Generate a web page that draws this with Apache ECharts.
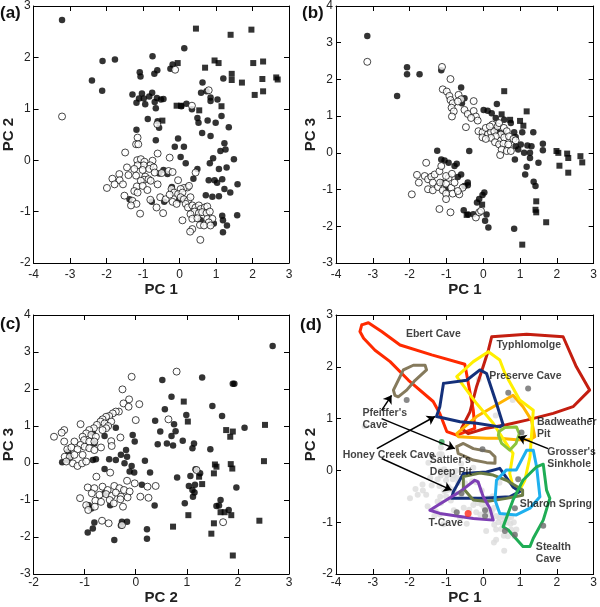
<!DOCTYPE html>
<html><head><meta charset="utf-8">
<script src="https://cdn.jsdelivr.net/npm/echarts@6/dist/echarts.min.js"></script>
<style>html,body{margin:0;padding:0;background:#fff}#c{width:600px;height:607px}</style>
</head><body><div id="c"></div>
<script>
// ---------- DATA ----------
// Panel (a): PC1 vs PC2
const a_filled = [[-3.22,2.73],[-2.11,1.93],[-1.77,1.96],[-2.40,1.55],[-2.12,1.35],[-0.74,2.02],[-1.09,1.71],[-1.07,1.63],[-0.69,1.68],[-0.61,1.75],[-0.25,1.78],[-0.19,1.86],[0.13,2.18],[-1.29,1.28],[-1.18,1.12],[-1.11,1.20],[-1.03,1.30],[-0.98,1.20],[-0.94,1.09],[-0.83,1.24],[-0.75,1.31],[-0.68,1.13],[-0.62,1.21],[-0.51,1.18],[-0.44,1.19],[-0.65,1.01],[-0.87,0.80],[-0.60,0.76],[-0.56,0.63],[-1.18,0.59],[0.05,1.05],[0.19,1.10],[0.34,0.99],[0.49,0.82],[0.52,0.73],[0.77,0.77],[0.99,0.73],[1.15,0.86],[0.59,1.31],[0.63,1.51],[0.74,1.34],[0.85,1.22],[0.85,1.15],[1.04,1.18],[1.20,1.59],[1.35,0.64],[0.62,0.53],[0.85,0.47],[-0.04,0.42],[-0.65,0.39],[-0.13,0.26],[0.12,0.26],[1.23,0.33],[1.26,0.21],[1.12,0.18],[0.92,0.04],[1.49,0.02],[0.83,-0.06],[1.08,-0.17],[1.29,-0.14],[0.49,-0.17],[-0.44,-0.19],[0.38,-0.36],[0.80,-0.39],[0.96,-0.39],[1.03,-0.44],[1.17,-0.37],[1.23,-0.56],[1.59,-0.47],[1.39,-0.63],[1.08,-0.70],[0.90,-0.71],[0.72,-0.68],[-0.21,-0.52],[-1.37,-0.76],[-0.76,-0.81],[-0.42,-0.81],[-0.01,-0.77],[1.17,-1.08],[1.19,-1.17],[1.30,-1.27],[1.19,-1.40],[1.58,-1.07],[0.58,-1.17],[0.94,-1.23],[0.17,-0.06],[-0.56,-0.26],[-0.33,-0.27],[0.03,0.06]];
const a_square = [[0.45,2.56],[1.40,2.44],[1.97,2.54],[-0.05,1.89],[0.70,1.80],[0.96,1.94],[1.07,1.89],[2.02,1.89],[2.29,1.92],[1.43,1.68],[1.43,1.56],[1.71,1.51],[2.27,1.58],[2.06,1.27],[2.29,1.34],[2.65,1.61],[2.69,1.57],[-0.08,1.06],[0.04,1.06],[0.54,0.97],[1.15,1.05],[-0.47,0.77]];
const a_open = [[-3.22,0.85],[-0.12,1.76],[-0.61,0.70],[0.80,1.36],[0.34,1.06],[-1.15,0.44],[-1.19,0.31],[-1.13,0.31],[-1.49,0.15],[-0.60,0.13],[-0.27,0.05],[-1.16,0.0],[-1.06,0.02],[-0.96,-0.03],[-0.74,-0.01],[-0.80,-0.10],[-0.98,-0.10],[-1.15,-0.10],[-1.44,-0.14],[-1.24,-0.17],[-1.01,-0.19],[-0.83,-0.17],[-0.71,-0.14],[-0.68,-0.24],[-0.49,-0.25],[-0.30,-0.21],[-0.19,-0.23],[-1.65,-0.27],[-1.40,-0.29],[-1.19,-0.30],[-0.94,-0.32],[-0.97,-0.38],[-0.85,-0.37],[-1.84,-0.36],[-1.64,-0.39],[-1.55,-0.47],[-1.78,-0.47],[-1.99,-0.54],[-1.06,-0.40],[-0.79,-0.40],[-0.60,-0.47],[-1.17,-0.51],[-1.01,-0.50],[-0.88,-0.58],[-1.24,-0.60],[-1.15,-0.63],[-1.51,-0.69],[-1.29,-0.79],[-1.18,-0.85],[-1.33,-0.88],[-1.08,-1.04],[-0.63,-0.92],[-0.45,-1.03],[-0.80,-0.77],[-0.53,-0.72],[-0.38,-0.76],[-0.04,-0.39],[0.22,-0.53],[0.12,-0.54],[0.03,-0.56],[0.26,-0.50],[0.44,-0.24],[-0.22,-0.56],[-0.15,-0.63],[-0.27,-0.67],[-0.04,-0.66],[0.08,-0.63],[0.03,-0.72],[0.12,-0.76],[0.23,-0.79],[0.30,-0.72],[-0.19,-0.81],[-0.08,-0.85],[0.17,-0.85],[0.23,-0.92],[0.35,-0.88],[0.44,-0.92],[0.53,-0.88],[0.58,-0.95],[0.69,-0.92],[0.76,-0.90],[0.41,-1.00],[0.53,-1.03],[0.62,-1.01],[0.74,-1.03],[0.83,-1.00],[0.30,-1.05],[0.08,-1.17],[0.35,-1.14],[0.49,-1.13],[0.76,-1.14],[0.90,-1.14],[0.80,-1.21],[0.56,-1.26],[0.67,-1.27],[0.85,-1.27],[0.35,-1.34],[0.29,-1.39],[0.57,-1.55]];

// Panel (b): PC1 vs PC3
const b_filled = [[-3.15,3.18],[-2.34,1.55],[-2.07,2.33],[-2.07,2.14],[-1.73,2.14],[-1.14,2.25],[-0.60,1.78],[-0.51,1.49],[-0.58,1.35],[0.01,1.17],[0.12,1.15],[0.37,1.33],[0.23,1.08],[0.34,0.95],[0.57,0.90],[0.75,0.81],[0.54,0.56],[0.37,0.61],[0.84,0.56],[0.88,0.43],[1.06,0.56],[1.36,0.56],[1.02,0.23],[1.20,0.20],[1.31,0.18],[0.88,0.18],[0.95,0.09],[1.11,0.0],[1.27,0.0],[1.27,-0.14],[0.86,-0.18],[1.62,0.25],[1.62,0.07],[-1.25,0.06],[-0.38,0.05],[1.50,-0.27],[1.18,-0.38],[1.14,-0.59],[1.37,-0.79],[1.42,-0.90],[0.84,-2.07],[-1.14,-0.18],[-1.05,-0.21],[-0.94,-0.27],[-0.78,-0.36],[-0.72,-0.30],[-0.60,-0.59],[-0.69,-0.66],[-0.42,-0.81],[-0.42,-0.88],[-0.51,-0.90],[-1.12,-0.81],[-0.53,-1.56],[-0.41,-1.68],[0.03,-1.08],[-0.02,-1.15],[-0.11,-1.26],[-0.17,-1.35],[0.09,-1.68],[0.14,-2.03],[0.05,-1.85],[-1.01,-0.97],[-0.27,-1.67]];
const b_square = [[0.57,1.68],[1.18,1.13],[0.50,1.05],[0.73,0.90],[1.0,0.87],[1.09,0.74],[1.99,0.05],[2.04,0.0],[2.28,-0.02],[2.31,-0.14],[2.64,-0.09],[2.69,-0.26],[2.07,-0.35],[2.31,-0.54],[1.44,-1.32],[1.42,-1.55],[1.44,-1.62],[1.71,-1.89],[1.06,-2.50],[-0.03,-1.41],[-0.45,-1.69]];
const b_open = [[-3.15,2.48],[-1.12,2.34],[-0.89,2.01],[-1.10,1.73],[-0.99,1.67],[-0.92,1.55],[-0.89,1.44],[-0.83,1.35],[-0.86,1.23],[-0.80,1.13],[-0.85,0.99],[-0.67,1.58],[-0.60,1.46],[-0.69,1.40],[-0.26,1.41],[-0.51,1.17],[-0.42,1.06],[-0.26,1.14],[-0.20,0.99],[-0.33,0.95],[-0.15,0.88],[-0.47,0.70],[-0.13,0.59],[-0.02,0.56],[0.07,0.68],[0.12,0.50],[-0.02,0.42],[0.21,0.56],[0.30,0.59],[0.25,0.77],[0.39,0.72],[0.43,0.81],[0.56,0.68],[0.64,0.59],[0.48,0.50],[0.34,0.45],[0.21,0.41],[0.32,0.29],[0.57,0.42],[0.70,0.45],[0.82,0.38],[0.43,0.23],[0.55,0.25],[0.68,0.23],[0.50,0.09],[0.46,-0.06],[0.64,0.05],[0.75,0.05],[0.88,0.34],[0.07,0.38],[0.18,0.72],[-1.55,-0.27],[-1.80,-0.60],[-1.75,-0.81],[-1.94,-1.13],[-1.59,-0.63],[-1.50,-0.72],[-1.41,-0.65],[-1.32,-0.59],[-1.19,-0.50],[-1.14,-0.36],[-1.37,-0.81],[-1.50,-0.99],[-1.37,-1.02],[-1.23,-0.93],[-1.17,-0.81],[-1.01,-0.84],[-1.10,-1.02],[-1.01,-1.11],[-0.87,-0.95],[-0.83,-1.11],[-0.94,-0.68],[-1.01,-0.63],[-0.85,-0.57],[-0.78,-0.81],[-0.65,-1.13],[-0.56,-0.95],[-0.69,-1.04],[-1.19,-1.53],[-0.89,-1.62],[-1.01,-1.26],[-0.20,-1.76],[-0.11,-1.62],[-0.06,-1.58]];

// Panel (c): PC2 vs PC3
const c_filled = [[0.52,2.24],[0.57,1.45],[0.38,1.14],[0.48,0.85],[0.43,0.51],[-0.84,0.82],[-0.39,0.95],[-0.06,0.76],[-0.02,0.58],[-0.61,0.73],[-0.81,0.53],[-0.19,0.35],[-0.29,0.22],[-0.17,0.17],[-0.52,0.10],[-0.39,0.08],[-1.32,0.31],[-1.28,0.17],[-1.33,0.08],[-1.44,0.02],[-0.84,0.08],[-0.78,0.10],[-0.61,-0.16],[-0.22,-0.01],[-0.08,-0.08],[-0.12,-0.23],[-0.03,-0.26],[0.18,0.06],[0.28,-0.26],[0.12,-0.59],[0.37,-1.15],[-0.61,-0.82],[-0.50,-1.14],[-0.92,-1.14],[-0.87,-1.23],[-0.81,-1.61],[-0.84,-1.77],[-0.94,-1.88],[-0.27,-1.59],[-0.17,-1.59],[-0.29,-1.69],[-0.42,-2.08],[0.22,-1.79],[0.22,-2.05],[2.68,3.16],[1.30,2.31],[1.90,2.14],[1.93,2.14],[0.70,1.79],[0.75,1.05],[0.78,0.86],[0.70,0.73],[0.73,0.47],[0.61,0.53],[0.99,1.30],[0.92,0.60],[1.14,0.53],[1.11,0.40],[1.50,1.54],[1.69,1.27],[2.13,0.95],[1.46,0.37],[1.17,-0.17],[1.07,-0.35],[1.26,-0.28],[1.16,-0.59],[1.04,-0.62],[1.11,-0.73],[1.15,-0.80],[1.12,-0.91],[0.81,-0.39],[0.96,-1.09],[1.97,-0.66],[1.66,-1.00],[1.63,-1.15],[1.58,-1.16],[1.82,-1.27]];
const c_square = [[0.94,1.66],[1.02,1.12],[1.77,0.89],[1.90,0.85],[1.85,0.71],[2.53,1.03],[2.51,0.05],[1.55,-0.04],[1.58,-0.10],[1.53,-0.28],[1.86,-0.03],[1.89,-0.15],[1.24,-0.37],[1.30,-0.57],[1.66,-1.33],[1.74,-1.33],[1.87,-1.41],[1.03,-1.41],[0.73,-1.72],[1.53,-1.63],[1.48,-1.91],[2.42,-1.56],[1.90,-2.50]];
const c_open = [[0.80,2.47],[0.64,1.18],[1.71,-1.60],[1.19,-0.19],[-0.08,2.33],[-0.26,1.99],[-0.13,1.72],[-0.24,1.61],[-0.14,1.52],[0.07,1.59],[-0.33,1.39],[-0.39,1.39],[-0.45,1.34],[-0.52,1.27],[-0.58,1.25],[-0.65,1.18],[-0.69,1.12],[-0.76,1.03],[-0.48,1.12],[-0.61,1.07],[-0.54,1.00],[0.00,1.16],[-1.08,1.05],[-0.82,0.94],[-0.58,0.94],[-0.91,0.89],[-0.65,0.89],[-0.97,0.80],[-0.87,0.76],[-1.04,0.71],[-0.78,0.71],[-1.40,0.89],[-1.45,0.82],[-1.60,0.71],[-1.40,0.58],[-1.20,0.58],[-1.01,0.62],[-0.91,0.58],[-1.08,0.49],[-0.81,0.58],[-0.30,0.69],[-0.48,0.59],[-1.34,0.37],[-1.26,0.42],[-1.14,0.37],[-1.00,0.44],[-0.91,0.40],[-0.81,0.35],[-0.68,0.42],[-0.47,0.46],[-1.39,0.17],[-1.29,0.17],[-1.20,0.22],[-1.04,0.22],[-1.36,0.04],[-1.23,-0.01],[-1.14,-0.08],[-1.05,-0.01],[-0.97,0.04],[-0.77,-0.37],[-0.50,-0.26],[-0.17,-0.48],[-0.02,-0.55],[0.23,-0.64],[0.39,-0.62],[-0.94,-0.66],[-0.81,-0.68],[-0.65,-0.64],[-0.55,-0.73],[-0.42,-0.62],[-0.32,-0.68],[-0.23,-0.73],[-0.12,-0.77],[-0.86,-0.82],[-0.71,-0.86],[-0.58,-0.84],[-0.47,-0.89],[-0.39,-0.80],[-0.29,-0.91],[-0.16,-0.93],[0.09,-0.91],[0.25,-0.94],[-1.09,-0.95],[-0.97,-1.14],[-0.79,-1.02],[-0.68,-1.05],[-0.51,-1.00],[-0.43,-1.09],[-0.30,-0.98],[-0.25,-1.18],[-0.80,-1.18],[-0.93,-1.27],[-0.66,-1.56],[-0.53,-1.63],[-0.27,-1.68]];

// Panel (d): PC1 vs PC2 with cave polygons
const d_light = a_open; // same samples drawn in light grey
const d_dark = [[-2.08,1.36],[0.68,1.50],[1.22,1.58],[1.04,0.73],[-0.02,0.41],[0.95,-0.17],[-0.59,-0.44],[0.05,-0.77],[0.05,-0.88],[-0.72,-0.81],[0.86,-0.73],[0.59,-1.17],[0.86,-1.24],[1.63,-1.07]];
const d_red = [[-0.41,-0.83]];
const d_green = [[-1.13,0.55]];

const poly_ebert = [[-3.30,2.81],[-3.12,2.85],[-2.76,2.68],[-2.26,2.42],[-1.40,2.23],[-0.50,2.05],[-0.27,1.16],[-0.23,0.81],[-0.72,0.68],[-0.99,0.75],[-1.18,1.10],[-1.36,1.33],[-2.03,1.74],[-2.53,2.10],[-2.94,2.32],[-3.25,2.55],[-3.35,2.68]];
const poly_typhlomolge = [[0.23,2.58],[1.18,2.63],[2.17,2.58],[2.53,2.00],[2.89,1.55],[2.44,1.23],[1.90,1.10],[1.18,0.97],[0.63,0.88],[0.05,0.81],[-0.41,0.71],[-0.59,0.81],[-0.36,1.13],[-0.18,1.62],[-0.05,1.90],[0.14,2.32]];
const poly_yellow = [[0.14,2.29],[0.45,2.13],[0.59,1.87],[0.99,1.36],[1.36,1.16],[1.27,0.26],[1.13,-0.19],[0.99,-0.38],[0.81,-0.32],[0.72,-0.06],[0.81,0.33],[0.68,0.46],[0.45,0.71],[0.27,0.91],[-0.18,1.29],[-0.72,1.81],[-0.27,2.10]];
const poly_preserve = [[-1.08,1.68],[-0.45,1.74],[-0.09,1.94],[0.09,1.87],[0.36,1.29],[0.54,0.88],[0.45,0.84],[-0.18,0.91],[-0.63,0.94],[-1.27,1.04],[-1.18,1.23]];
const poly_orange = [[-0.72,0.71],[-0.18,1.04],[0.81,1.45],[1.08,1.23],[1.31,0.97],[1.40,0.65],[1.27,0.59],[0.90,0.59],[0.45,0.62],[0.09,0.62],[-0.68,0.65]];
const poly_grosser = [[0.43,0.75],[0.59,0.83],[0.90,0.84],[0.98,0.71],[0.89,0.52],[0.72,0.39],[0.50,0.52],[0.41,0.68]];
const poly_pfeiffer = [[-2.44,1.55],[-2.17,1.94],[-1.90,2.03],[-1.58,2.03],[-1.54,1.94],[-1.85,1.74],[-2.08,1.55],[-2.31,1.42],[-2.40,1.45]];
const poly_sattler = [[-0.72,0.46],[-0.54,0.52],[-0.27,0.42],[0.18,0.36],[0.32,0.26],[0.32,0.14],[0.09,0.15],[-0.27,0.20],[-0.68,0.33]];
const poly_honey = [[-0.81,-0.41],[-0.54,-0.06],[0.09,-0.03],[0.45,0.04],[0.81,-0.32],[0.99,-0.41],[0.72,-0.51],[0.0,-0.54],[-0.86,-0.54]];
const poly_olive = [[-0.54,-0.12],[-0.09,-0.05],[0.27,-0.09],[0.63,-0.19],[1.07,-0.38],[1.07,-0.48],[0.63,-0.54],[0.09,-0.60],[-0.27,-0.57],[-0.54,-0.35]];
const poly_tcave = [[-1.45,-0.77],[-1.18,-0.65],[-0.63,-0.41],[-0.23,-0.19],[-0.14,-0.22],[0.0,-0.51],[0.18,-0.73],[0.27,-0.96],[0.23,-0.99],[-0.27,-0.93],[-0.72,-0.88],[-1.18,-0.83]];
const poly_sharon = [[0.36,-0.19],[0.63,0.01],[0.90,0.01],[1.18,0.39],[1.36,0.39],[1.45,0.07],[1.54,-0.51],[1.27,-0.73],[0.90,-0.86],[0.45,-0.83],[0.32,-0.57]];
const poly_stealth = [[0.54,-1.09],[0.81,-0.57],[1.08,-0.19],[1.45,0.07],[1.63,0.12],[1.72,-0.38],[1.81,-0.54],[1.63,-0.96],[1.36,-1.31],[1.27,-1.47],[1.08,-1.47],[0.68,-1.15]];

const d_arrows = [[[-2.76,1.16],[-2.49,1.45]],[[-2.76,1.00],[-0.77,0.42]],[[-2.89,0.42],[-1.31,1.04]],[[-2.76,0.23],[-0.86,-0.38]],[[1.76,0.42],[0.95,0.65]]];
const d_labels = [["Ebert Cave",-2.10,2.64],["Typhlomolge",0.36,2.41],["Preserve Cave",0.16,1.82],["Pfeiffer's\nCave",-3.28,0.99],["Badweather\nPit",1.46,0.82],["Grosser's\nSinkhole",1.74,0.23],["Honey Creek Cave",-3.82,0.30],["Sattler's\nDeep Pit",-1.45,0.09],["Sharon Spring",0.99,-0.65],["T-Cave",-1.49,-1.01],["Stealth\nCave",1.43,-1.59]];

const panel_tags = ["(a)","(b)","(c)","(d)"];
const x_ranges = [[-4,3],[-4,3],[-2,3],[-4,3]];
const y_ranges = [[-2,3],[-3,4],[-3,4],[-2,3]];
const x_names = ["PC 1","PC 1","PC 2","PC 1"];
const y_names = ["PC 2","PC 3","PC 3","PC 2"];

// ---------- LAYOUT / STYLE ----------
const FONT = "Liberation Sans, Arial, sans-serif";
const grids = [
  {left:32, top:4, width:257, height:259},
  {left:336, top:4, width:259, height:259},
  {left:32, top:315, width:257, height:259},
  {left:336, top:315, width:258, height:259}
];
const xLabelMargin = [6,6,3,3];
const xNameGap = [17,17,8,7];
const yNameGap = [9,9,13,6];
const tagPos = [[0,5],[302,5],[0,316],[300,317]];

const xAxes = [], yAxes = [];
grids.forEach((g,i)=>{
  const lineS = {show:true, onZero:false, lineStyle:{color:'#000', width:1}};
  const tick = {show:true, inside:true, length:5, lineStyle:{color:'#000', width:1}};
  xAxes.push({type:'value', gridIndex:i, position:'bottom', min:x_ranges[i][0], max:x_ranges[i][1], interval:1,
    name:x_names[i], nameLocation:'middle', nameGap:xNameGap[i],
    nameTextStyle:{fontFamily:FONT, fontWeight:'bold', fontSize:15, color:'#222'},
    axisLine:lineS, axisTick:tick, splitLine:{show:false},
    axisLabel:{margin:xLabelMargin[i], fontFamily:FONT, fontSize:12, color:'#222'}});
  xAxes.push({type:'value', gridIndex:i, position:'top', min:x_ranges[i][0], max:x_ranges[i][1], interval:1,
    axisLine:lineS, axisTick:tick, splitLine:{show:false}, axisLabel:{show:false}});
  yAxes.push({type:'value', gridIndex:i, position:'left', min:y_ranges[i][0], max:y_ranges[i][1], interval:1,
    name:y_names[i], nameLocation:'middle', nameGap:yNameGap[i],
    nameTextStyle:{fontFamily:FONT, fontWeight:'bold', fontSize:15, color:'#222'},
    axisLine:lineS, axisTick:tick, splitLine:{show:false},
    axisLabel:{margin:3, fontFamily:FONT, fontSize:12, color:'#222'}});
  yAxes.push({type:'value', gridIndex:i, position:'right', min:y_ranges[i][0], max:y_ranges[i][1], interval:1,
    axisLine:lineS, axisTick:tick, splitLine:{show:false}, axisLabel:{show:false}});
});

function pts(data, i, kind){
  const s = {type:'scatter', xAxisIndex:2*i, yAxisIndex:2*i, data:data, silent:true, animation:false};
  if(kind==='filled'){ s.symbol='circle'; s.symbolSize=6.5; s.itemStyle={color:'#000'}; }
  else if(kind==='open'){ s.symbol='circle'; s.symbolSize=7; s.itemStyle={color:'#fff', borderColor:'#000', borderWidth:0.9}; }
  else if(kind==='square'){ s.symbol='rect'; s.symbolSize=6; s.itemStyle={color:'#000'}; }
  return s;
}
function poly(data, color){
  return {type:'line', xAxisIndex:6, yAxisIndex:6, data:data.concat([data[0]]), symbol:'none', silent:true, animation:false,
    lineStyle:{color:color, width:3, join:'round', cap:'round'}, z:3};
}

const series = [
  pts(a_filled,0,'filled'), pts(a_square,0,'square'), pts(a_open,0,'open'),
  pts(b_filled,1,'filled'), pts(b_square,1,'square'), pts(b_open,1,'open'),
  pts(c_filled,2,'filled'), pts(c_square,2,'square'), pts(c_open,2,'open'),
  {type:'scatter', xAxisIndex:6, yAxisIndex:6, data:d_light, symbolSize:6, itemStyle:{color:'#dcdcdc'}, silent:true, animation:false, z:1},
  poly(poly_ebert,'#ff2a00'),
  poly(poly_typhlomolge,'#c41e10'),
  poly(poly_orange,'#ffb300'),
  poly(poly_yellow,'#ffef00'),
  poly(poly_preserve,'#14307a'),
  poly(poly_grosser,'#8cc43c'),
  poly(poly_pfeiffer,'#857a5c'),
  poly(poly_sattler,'#857a5c'),
  poly(poly_honey,'#14307a'),
  poly(poly_olive,'#6c7d44'),
  poly(poly_tcave,'#7d3fb4'),
  poly(poly_sharon,'#1eb0ee'),
  poly(poly_stealth,'#1fad55'),
  {type:'scatter', xAxisIndex:6, yAxisIndex:6, data:d_dark, symbolSize:6, itemStyle:{color:'#6a6a6a'}, silent:true, animation:false, z:4},
  {type:'scatter', xAxisIndex:6, yAxisIndex:6, data:d_red, symbolSize:7, itemStyle:{color:'#ff2a1a'}, silent:true, animation:false, z:4},
  {type:'scatter', xAxisIndex:6, yAxisIndex:6, data:d_green, symbolSize:6, itemStyle:{color:'#2aa050'}, silent:true, animation:false, z:4},
  {type:'lines', coordinateSystem:'cartesian2d', xAxisIndex:6, yAxisIndex:6, silent:true, animation:false, z:5,
    data:d_arrows.map(c=>({coords:c})), symbol:['none','arrow'], symbolSize:[0,8],
    lineStyle:{color:'#000', width:1.5, opacity:1, curveness:0}},
  {type:'scatter', xAxisIndex:6, yAxisIndex:6, silent:true, animation:false, z:6, symbolSize:0,
    data:d_labels.map(l=>({name:l[0], value:[l[1],l[2]]})),
    label:{show:true, position:'right', distance:0, formatter:'{b}', fontFamily:FONT, fontWeight:'bold', fontSize:10.5, lineHeight:12, color:'#111', align:'left'}}
];

const graphic = panel_tags.map((t,i)=>({type:'text', left:tagPos[i][0], top:tagPos[i][1], silent:true,
  style:{text:t, font:'bold 17px '+FONT, fill:'#111'}}));

const chart = echarts.init(document.getElementById('c'), null, {renderer:'canvas'});
chart.setOption({animation:false, backgroundColor:'#fff', grid:grids, xAxis:xAxes, yAxis:yAxes, series:series, graphic:graphic});
</script></body></html>
